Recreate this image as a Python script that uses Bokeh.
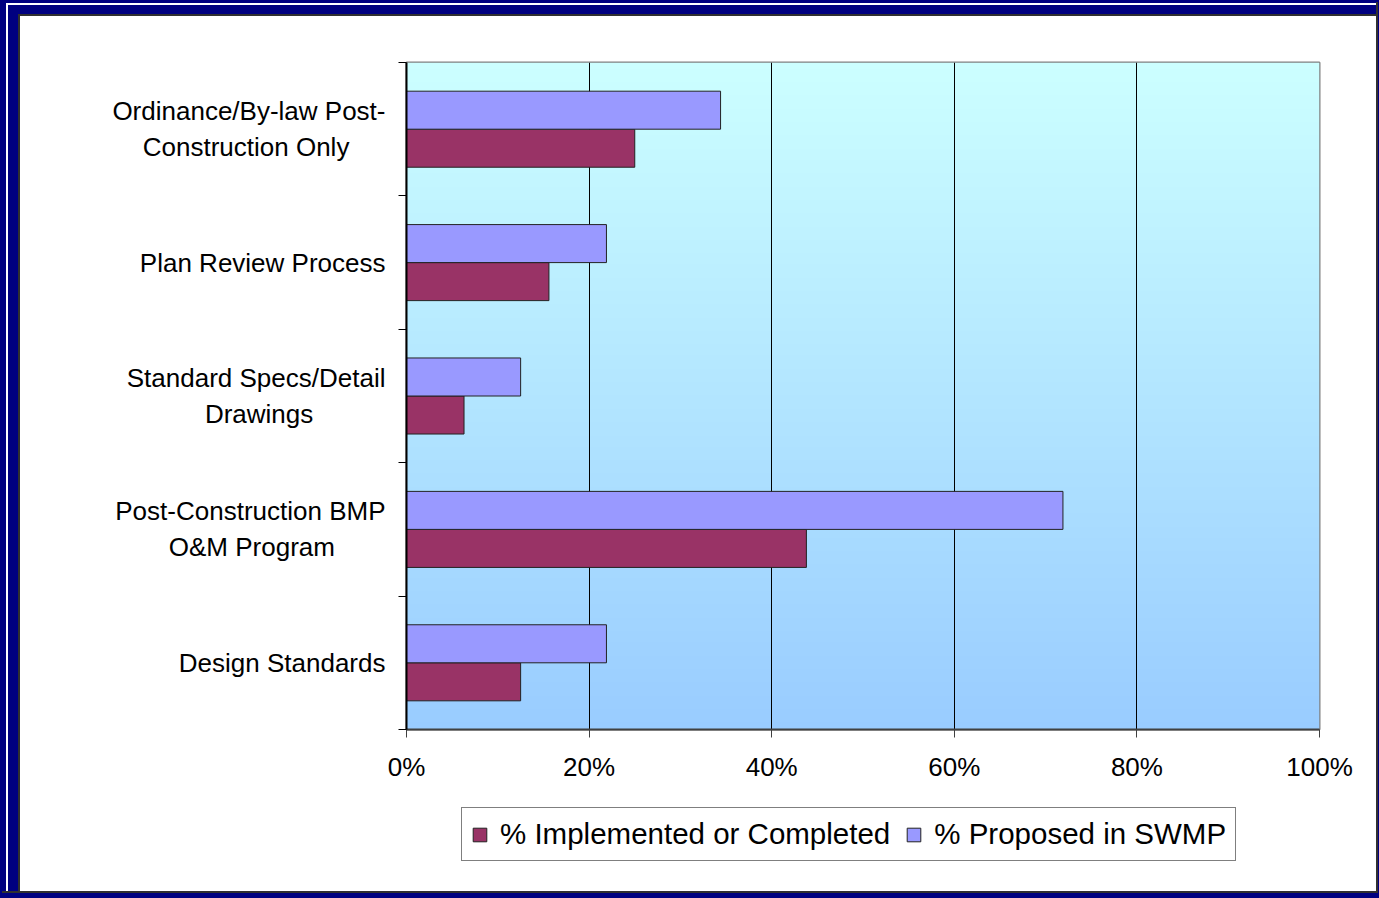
import numpy as np
from bokeh.plotting import figure
from bokeh.layouts import column
from bokeh.models import (Range1d, FixedTicker, PrintfTickFormatter, Legend,
                          LegendItem, ColumnDataSource)
from bokeh.embed import file_html
from bokeh.resources import INLINE

# ---- data ----
categories = [
    "Ordinance/By-law Post-\nConstruction Only",
    "Plan Review Process",
    "Standard Specs/Detail\nDrawings",
    "Post-Construction BMP\nO&M Program",
    "Design Standards",
]
implemented = [25.0, 15.6, 6.3, 43.8, 12.5]
proposed = [34.4, 21.9, 12.5, 71.9, 21.9]
x_ticks = [0, 20, 40, 60, 80, 100]
series_names = ["% Implemented or Completed", "% Proposed in SWMP"]
series_colors = ["#993366", "#9999FF"]

# styling: no-break spaces after the 2nd line so that the two lines look centred
line2_pad = [5, 0, 10, 7, 0]

FONT = "Liberation Sans"
NBSP = "\u00a0"
BAR_LINE = "#222222"
n = len(categories)
centers = [n - 0.5 - i for i in range(n)]
bar_h = 0.285
off = bar_h / 2


def padded(label, k):
    if "\n" not in label:
        return label
    a, b = label.split("\n", 1)
    return a + "\n" + b + NBSP * k


src = ColumnDataSource(dict(
    imp_y=[c - off for c in centers],
    prop_y=[c + off for c in centers],
    imp=implemented,
    prop=proposed,
))

W = 1376
p = figure(width=W, height=790, x_range=Range1d(0, 100), y_range=Range1d(0, n),
           output_backend="svg", toolbar_location=None, title=None,
           min_border_left=406, min_border_right=57, min_border_top=62,
           min_border_bottom=61)
p.border_fill_alpha = 0
p.outline_line_color = "#808080"
p.outline_line_width = 2

# gradient background of the plot area
rows = 300
top = np.array([204, 255, 255]); bot = np.array([153, 204, 255])
t = np.linspace(0, 1, rows)[:, None]
cols = np.round(bot * (1 - t) + top * t).astype(np.uint8)
img = np.empty((rows, 1), dtype=np.uint32)
view = img.view(dtype=np.uint8).reshape((rows, 1, 4))
view[:, 0, 0] = cols[:, 0]; view[:, 0, 1] = cols[:, 1]; view[:, 0, 2] = cols[:, 2]; view[:, 0, 3] = 255
bg = p.image_rgba(image=[img], x=p.x_range.start, y=p.y_range.start,
                  dw=p.x_range.end - p.x_range.start, dh=p.y_range.end - p.y_range.start)
bg.level = "image"

p.hbar(y="imp_y", right="imp", left=0, height=bar_h, source=src,
       fill_color=series_colors[0], line_color=BAR_LINE, line_width=1)
p.hbar(y="prop_y", right="prop", left=0, height=bar_h, source=src,
       fill_color=series_colors[1], line_color=BAR_LINE, line_width=1)

# grid
p.ygrid.grid_line_color = None
p.xgrid.ticker = FixedTicker(ticks=x_ticks)
p.xgrid.grid_line_color = "#000000"
p.xgrid.grid_line_width = 1

# x axis
xa = p.xaxis[0]
xa.ticker = FixedTicker(ticks=x_ticks, minor_ticks=[])
xa.formatter = PrintfTickFormatter(format="%d%%")
xa.axis_line_color = "#404040"
xa.axis_line_width = 2
xa.major_tick_line_color = "#404040"
xa.major_tick_out = 8
xa.major_tick_in = 0
xa.minor_tick_line_color = None
xa.major_label_standoff = 14
xa.major_label_text_font = FONT
xa.major_label_text_font_size = "26px"
xa.major_label_text_color = "black"

# y axis: labels at category centres, ticks at boundaries
ya = p.yaxis[0]
ya.ticker = FixedTicker(ticks=centers, minor_ticks=list(range(n + 1)))
ya.major_label_overrides = {c: padded(lab, k) for c, lab, k in zip(centers, categories, line2_pad)}
ya.major_tick_line_color = None
ya.minor_tick_line_color = "black"
ya.minor_tick_out = 8
ya.minor_tick_in = 0
ya.minor_tick_line_width = 1
ya.axis_line_color = "black"
ya.axis_line_width = 2
ya.major_label_standoff = 13
ya.major_label_text_font = FONT
ya.major_label_text_font_size = "26px"
ya.major_label_text_color = "black"

# ---- legend strip (separate canvas so the legend is not clipped) ----
lg = figure(width=W, height=101, x_range=Range1d(0, 1), y_range=Range1d(0, 1),
            output_backend="svg", toolbar_location=None, title=None,
            min_border=0)
lg.axis.visible = False
lg.grid.grid_line_color = None
lg.outline_line_color = None
lg.border_fill_alpha = 0
lg.background_fill_alpha = 0
key_src = ColumnDataSource(dict(y=[float("nan")], right=[float("nan")]))
k_imp = lg.hbar(y="y", right="right", left=0, height=0.1, source=key_src,
                fill_color=series_colors[0], line_color=BAR_LINE, line_width=1)
k_prop = lg.hbar(y="y", right="right", left=0, height=0.1, source=key_src,
                 fill_color=series_colors[1], line_color=BAR_LINE, line_width=1)
legend = Legend(items=[LegendItem(label=series_names[0], renderers=[k_imp]),
                       LegendItem(label=series_names[1], renderers=[k_prop])],
                orientation="horizontal", location=(55, 30),
                border_line_color="black", border_line_width=1,
                background_fill_color="white", background_fill_alpha=1,
                label_text_font=FONT, label_text_font_size="29.5px",
                label_text_color="black",
                glyph_width=17, glyph_height=17, label_standoff=12,
                spacing=15, padding=9, margin=0)
lg.add_layout(legend, "center")

layout = column(p, lg, spacing=0)
layout.styles = {
    "background-color": "white",
    "box-shadow": ("inset 6px 3px 0 0 #000080, inset 8px 5px 0 0 #ffffff, "
                   "inset 18px 14px 0 0 #000080, inset 20px 16px 0 0 #303030, "
                   "2px 2px 0 0 #303030, 0 0 0 10px #000080"),
}

open("out.html", "w").write(file_html(layout, INLINE))
